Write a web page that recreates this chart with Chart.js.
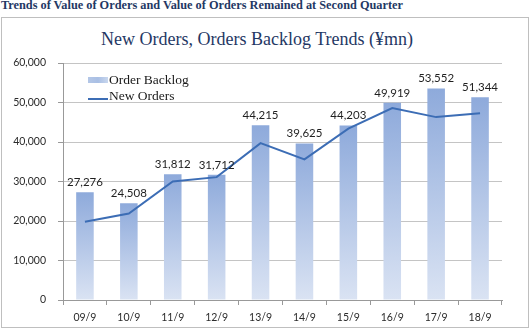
<!DOCTYPE html>
<html>
<head>
<meta charset="utf-8">
<script src="https://cdn.jsdelivr.net/npm/chart.js@4/dist/chart.umd.min.js"></script>
<style>
  html, body { margin: 0; padding: 0; background: #fff; }
  #wrap { position: relative; width: 530px; height: 328px; overflow: hidden; }
  #head { position: absolute; left: 1px; top: -2px; font: bold 12.3px "Liberation Serif", "Times New Roman", serif; color: #1f3864; white-space: nowrap; }
  #frame { position: absolute; left: 1px; top: 17px; width: 526px; height: 309px; border: 1px solid #bfbfbf; }
  #ctitle { position: absolute; left: 0; width: 514px; top: 29px; text-align: center; font: 18px "Liberation Serif", "Times New Roman", serif; color: #1f3864; white-space: nowrap; }
  canvas { position: absolute; left: 0; top: 0; }
</style>
</head>
<body>
<div id="wrap">
  <div id="head">Trends of Value of Orders and Value of Orders Remained at Second Quarter</div>
  <div id="frame"></div>
  <div id="ctitle">New Orders, Orders Backlog Trends (¥mn)</div>
  <canvas id="c" width="530" height="328"></canvas>
</div>
<script>
// Fiscal periods (year/month)
const periods = ['09/9', '10/9', '11/9', '12/9', '13/9', '14/9', '15/9', '16/9', '17/9', '18/9'];
// Orders backlog at period end (¥mn)
const orderBacklog = [27276, 24508, 31812, 31712, 44215, 39625, 44203, 49919, 53552, 51344];
// New orders received (¥mn)
const newOrders = [19800, 21900, 30000, 31100, 39700, 35600, 43400, 48600, 46300, 47300];
// Value axis ticks
const yTicks = [0, 10000, 20000, 30000, 40000, 50000, 60000];

const legendItems = ['Order Backlog', 'New Orders'];

const barTop = '#8eaadb';
const barBottom = '#dae3f3';
const lineColor = '#3c6db5';
const tickText = '#2b2b2b';

function barGradient(ctx) {
  const chart = ctx.chart;
  const area = chart.chartArea;
  if (!area || ctx.type !== 'data') return barTop;
  const y = chart.scales.y;
  const v = ctx.parsed ? ctx.parsed.y : ctx.raw;
  const top = y.getPixelForValue(v);
  const base = y.getPixelForValue(0);
  const g = chart.ctx.createLinearGradient(0, top, 0, base);
  g.addColorStop(0, barTop);
  g.addColorStop(1, barBottom);
  return g;
}

const fmt = n => n.toLocaleString('en-US');

// Value labels above the backlog bars
const barLabels = {
  id: 'barLabels',
  afterDatasetsDraw(chart) {
    const meta = chart.getDatasetMeta(0);
    const c = chart.ctx;
    c.save();
    c.font = '11.5px Lato, "Liberation Sans", sans-serif';
    c.fillStyle = '#1f1f1f';
    c.textAlign = 'center';
    c.textBaseline = 'alphabetic';
    meta.data.forEach((bar, i) => {
      c.fillText(fmt(orderBacklog[i]), bar.x, bar.y - 6);
    });
    c.restore();
  }
};

// Legend drawn inside the plot area, upper left
const innerLegend = {
  id: 'innerLegend',
  afterDraw(chart) {
    const c = chart.ctx;
    c.save();
    const x0 = 88, w = 20;
    const g = c.createLinearGradient(x0, 0, x0 + w, 0);
    g.addColorStop(0, '#b4c7e7');
    g.addColorStop(0.5, '#a9bfe4');
    g.addColorStop(1, '#c9d7ee');
    c.fillStyle = g;
    c.fillRect(x0, 77, w, 6);
    c.strokeStyle = lineColor;
    c.lineWidth = 2;
    c.beginPath();
    c.moveTo(x0, 99);
    c.lineTo(x0 + w, 99);
    c.stroke();
    c.font = '13.5px "Liberation Serif", "Times New Roman", serif';
    c.fillStyle = '#1a1a1a';
    c.textAlign = 'left';
    c.textBaseline = 'middle';
    c.fillText(legendItems[0], x0 + w + 1, 80);
    c.fillText(legendItems[1], x0 + w + 1, 96);
    c.restore();
  }
};

new Chart(document.getElementById('c'), {
  data: {
    labels: periods,
    datasets: [
      {
        type: 'bar',
        label: legendItems[0],
        data: orderBacklog,
        backgroundColor: barGradient,
        barPercentage: 0.4,
        categoryPercentage: 1.0,
        order: 2
      },
      {
        type: 'line',
        label: legendItems[1],
        data: newOrders,
        borderColor: lineColor,
        borderWidth: 2,
        pointRadius: 0,
        tension: 0,
        fill: false,
        order: 1
      }
    ]
  },
  options: {
    responsive: false,
    animation: false,
    devicePixelRatio: 1,
    layout: { padding: { top: 63, right: 28, left: 0, bottom: 0 } },
    plugins: {
      legend: { display: false },
      title: { display: false },
      tooltip: { enabled: false }
    },
    scales: {
      x: {
        grid: {
          offset: true,
          drawOnChartArea: false,
          drawTicks: true,
          tickLength: 5,
          color: '#999999'
        },
        border: { color: '#999999', width: 1 },
        ticks: {
          padding: 6,
          color: tickText,
          font: { family: 'Lato, "Liberation Sans", sans-serif', size: 10.5 },
          maxRotation: 0
        },
        afterFit(scale) { scale.height = 28; }
      },
      y: {
        min: 0,
        max: 60000,
        afterBuildTicks(scale) { scale.ticks = yTicks.map(v => ({ value: v })); },
        grid: {
          color: '#c4c4c4',
          tickLength: 5,
          tickColor: '#999999'
        },
        border: { color: '#999999', width: 1 },
        ticks: {
          padding: 12,
          color: tickText,
          font: { family: 'Lato, "Liberation Sans", sans-serif', size: 10.5 },
          callback: v => fmt(v)
        },
        afterFit(scale) { scale.width = 63; }
      }
    }
  },
  plugins: [barLabels, innerLegend]
});
</script>
</body>
</html>
